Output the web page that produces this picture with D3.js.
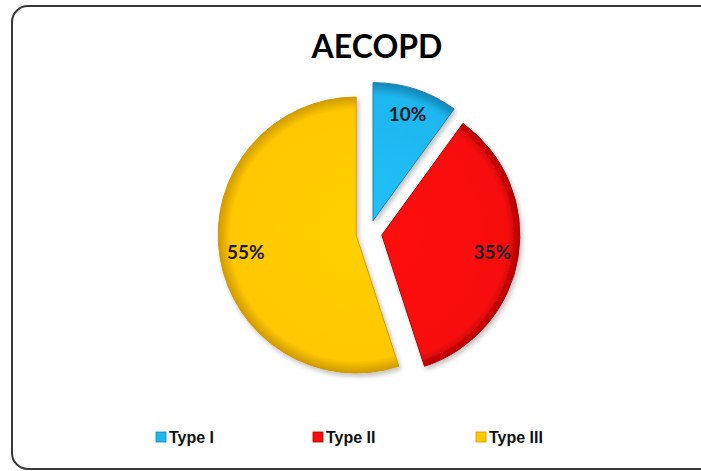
<!DOCTYPE html>
<html>
<head>
<meta charset="utf-8">
<script src="https://cdn.jsdelivr.net/npm/d3@7/dist/d3.min.js"></script>
<style>
  html, body { margin: 0; padding: 0; background: #fff; }
  svg { display: block; }
</style>
</head>
<body>
<script>
// AECOPD respiratory failure type distribution
const categories = ["Type I", "Type II", "Type III"];
const values = [10, 35, 55];
const labels = ["10%", "35%", "55%"];
const colors = ["#1fb7ee", "#f70d0d", "#ffc800"];
const rims = ["#1283b5", "#b00000", "#d09a00"];

const W = 701, H = 471;
const svg = d3.select("body").append("svg").attr("width", W).attr("height", H);
const defs = svg.append("defs");

// chart frame
svg.append("rect")
  .attr("x", 12).attr("y", 6).attr("width", 706).attr("height", 463)
  .attr("rx", 16).attr("ry", 16)
  .attr("fill", "#fff").attr("stroke", "#3a3a3a").attr("stroke-width", 2);

svg.append("text")
  .attr("x", 377).attr("y", 58)
  .attr("text-anchor", "middle")
  .attr("font-family", "Lato, 'Open Sans', sans-serif")
  .attr("font-weight", 700).attr("font-size", 32)
  .attr("fill", "#000")
  .text("AECOPD");

// soft drop shadow for the slices
const shadow = defs.append("filter").attr("id", "shadow")
  .attr("x", "-20%").attr("y", "-20%").attr("width", "140%").attr("height", "140%");
shadow.append("feGaussianBlur").attr("in", "SourceAlpha").attr("stdDeviation", 2.5);
shadow.append("feOffset").attr("dx", 2).attr("dy", 3).attr("result", "b");
shadow.append("feComponentTransfer").append("feFuncA").attr("type", "linear").attr("slope", 0.25);
const m = shadow.append("feMerge");
m.append("feMergeNode");
m.append("feMergeNode").attr("in", "SourceGraphic");

const R = 138, cx = 369, cy = 233, explode = 13;

colors.forEach((c, i) => {
  const g = defs.append("radialGradient").attr("id", "g" + i)
    .attr("gradientUnits", "userSpaceOnUse")
    .attr("cx", 0).attr("cy", 0).attr("r", R);
  g.append("stop").attr("offset", "0%").attr("stop-color", d3.color(c).brighter(0.12));
  g.append("stop").attr("offset", "91%").attr("stop-color", c);
  g.append("stop").attr("offset", "100%").attr("stop-color", rims[i]);
});

const pie = d3.pie().sort(null).value(d => d);
const arcs = pie(values);
const arc = d3.arc().innerRadius(0).outerRadius(R);
const labelArc = d3.arc().innerRadius(R * 0.81).outerRadius(R * 0.81);

const root = svg.append("g").attr("transform", `translate(${cx},${cy})`);

const slices = root.selectAll("g.slice").data(arcs).join("g")
  .attr("class", "slice")
  .attr("transform", d => {
    const a = (d.startAngle + d.endAngle) / 2;
    return `translate(${Math.sin(a) * explode},${-Math.cos(a) * explode})`;
  });

slices.append("path")
  .attr("d", arc)
  .attr("fill", (d, i) => `url(#g${i})`)
  .attr("stroke", (d, i) => rims[i])
  .attr("stroke-width", 1)
  .attr("stroke-linejoin", "round")
  .attr("filter", "url(#shadow)");

slices.append("text")
  .attr("transform", d => {
    const [x, y] = labelArc.centroid(d);
    return `translate(${x},${y})`;
  })
  .attr("text-anchor", "middle")
  .attr("dy", "0.35em")
  .attr("font-family", "Lato, 'Open Sans', sans-serif")
  .attr("font-weight", 700).attr("font-size", 19)
  .attr("fill", "#1b1b26")
  .text((d, i) => labels[i]);

// legend
const legendX = [156, 313, 476];
const legend = svg.append("g").selectAll("g").data(categories).join("g")
  .attr("transform", (d, i) => `translate(${legendX[i]},437)`);
legend.append("rect")
  .attr("x", 0).attr("y", -5).attr("width", 10).attr("height", 10)
  .attr("fill", (d, i) => colors[i])
  .attr("stroke", (d, i) => rims[i]).attr("stroke-width", 0.8);
legend.append("text")
  .attr("x", 13).attr("y", 0).attr("dy", "0.36em")
  .attr("font-family", "'Liberation Sans', Arial, sans-serif")
  .attr("font-weight", 700).attr("font-size", 16)
  .attr("fill", "#111")
  .text(d => d);
</script>
</body>
</html>
